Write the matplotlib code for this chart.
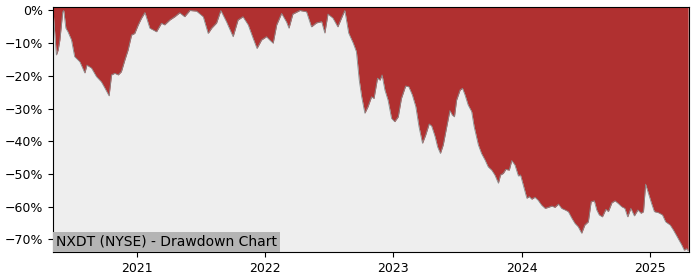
import matplotlib
matplotlib.use("Agg")
import matplotlib.pyplot as plt
import matplotlib.dates as mdates
from matplotlib.ticker import PercentFormatter
import numpy as np
import pandas as pd

ticker_label = "NXDT (NYSE) - Drawdown Chart"

dates = [
    "2020-05-08", "2020-05-17", "2020-05-22", "2020-05-27", "2020-06-04", "2020-06-07",
    "2020-06-13", "2020-06-19", "2020-06-29", "2020-07-08", "2020-07-23", "2020-08-06",
    "2020-08-12", "2020-08-25", "2020-09-08", "2020-09-22", "2020-10-02", "2020-10-14",
    "2020-10-21", "2020-10-30", "2020-11-09", "2020-11-18", "2020-11-28", "2020-12-07",
    "2020-12-17", "2020-12-26", "2021-01-05", "2021-01-14", "2021-01-24", "2021-02-07",
    "2021-02-26", "2021-03-12", "2021-03-21", "2021-04-05", "2021-04-19", "2021-05-03",
    "2021-05-17", "2021-06-01", "2021-06-20", "2021-07-09", "2021-07-23", "2021-08-02",
    "2021-08-16", "2021-08-28", "2021-09-13", "2021-10-02", "2021-10-16", "2021-10-30",
    "2021-11-14", "2021-11-28", "2021-12-09", "2021-12-22", "2022-01-05", "2022-01-14",
    "2022-01-24", "2022-02-03", "2022-02-17", "2022-03-03", "2022-03-10", "2022-03-21",
    "2022-04-10", "2022-04-29", "2022-05-13", "2022-05-27", "2022-06-11", "2022-06-20",
    "2022-06-29", "2022-07-13", "2022-07-27", "2022-08-10", "2022-08-16", "2022-08-27",
    "2022-09-09", "2022-09-18", "2022-09-26", "2022-10-03", "2022-10-12", "2022-10-21",
    "2022-10-31", "2022-11-07", "2022-11-17", "2022-11-24", "2022-11-30", "2022-12-08",
    "2022-12-17", "2022-12-27", "2023-01-05", "2023-01-15", "2023-01-24", "2023-02-05",
    "2023-02-14", "2023-02-24", "2023-03-06", "2023-03-15", "2023-03-25", "2023-04-03",
    "2023-04-13", "2023-04-20", "2023-04-30", "2023-05-07", "2023-05-15", "2023-05-23",
    "2023-06-02", "2023-06-11", "2023-06-18", "2023-06-24", "2023-06-30", "2023-07-10",
    "2023-07-17", "2023-07-24", "2023-08-02", "2023-08-12", "2023-08-19", "2023-08-31",
    "2023-09-09", "2023-09-19", "2023-09-28", "2023-10-08", "2023-10-17", "2023-10-27",
    "2023-11-02", "2023-11-10", "2023-11-17", "2023-11-27", "2023-12-04", "2023-12-13",
    "2023-12-23", "2023-12-29", "2024-01-06", "2024-01-16", "2024-01-23", "2024-01-30",
    "2024-02-08", "2024-02-17", "2024-02-27", "2024-03-08", "2024-03-17", "2024-03-27",
    "2024-04-05", "2024-04-15", "2024-04-24", "2024-05-04", "2024-05-13", "2024-05-23",
    "2024-06-01", "2024-06-10", "2024-06-20", "2024-06-29", "2024-07-09", "2024-07-17",
    "2024-07-26", "2024-08-02", "2024-08-09", "2024-08-18", "2024-08-28", "2024-09-04",
    "2024-09-14", "2024-09-23", "2024-10-02", "2024-10-12", "2024-10-21", "2024-10-29",
    "2024-11-07", "2024-11-17", "2024-11-27", "2024-12-06", "2024-12-13", "2024-12-19",
    "2024-12-27", "2025-01-05", "2025-01-13", "2025-01-24", "2025-02-05", "2025-02-14",
    "2025-02-27", "2025-03-08", "2025-03-18", "2025-03-24", "2025-04-01", "2025-04-08",
    "2025-04-15", "2025-04-19",
]

# drawdown in percent
drawdown = [
    -0.5, -13.6, -12.1, -9.0, -0.5, 0.0,
    -5.4, -6.5, -9.0, -14.1, -15.7, -19.1,
    -16.7, -17.6, -20.2, -21.8, -23.7, -26.1,
    -19.7, -19.2, -19.7, -18.7, -15.1, -12.1,
    -7.5, -7.0, -4.4, -2.4, -0.6, -5.4,
    -6.5, -3.9, -4.4, -2.9, -1.9, -0.7,
    -1.9, 0.0, -0.2, -1.9, -7.0, -5.4,
    -3.8, 0.0, -3.4, -8.0, -2.9, -1.9,
    -4.4, -8.5, -11.6, -9.0, -8.0, -9.0,
    -10.0, -4.4, -0.9, -3.5, -5.4, -1.1,
    0.0, -0.4, -5.0, -3.8, -3.4, -6.9,
    -1.1, -2.3, -5.0, -1.4, 0.0, -6.9,
    -10.0, -12.6, -21.3, -26.4, -31.4, -29.4,
    -26.4, -26.9, -20.7, -21.3, -19.7, -24.3,
    -27.4, -33.0, -34.0, -32.5, -26.9, -23.1,
    -23.3, -25.8, -29.4, -35.5, -40.6, -38.1,
    -34.7, -35.3, -38.6, -41.7, -43.7, -41.1,
    -35.5, -30.6, -32.0, -32.5, -27.4, -24.3,
    -23.8, -25.8, -28.9, -30.9, -35.5, -41.1,
    -43.7, -45.7, -47.8, -48.8, -50.3, -52.8,
    -50.3, -49.8, -48.6, -48.8, -45.9, -47.2,
    -50.6, -50.3, -53.4, -57.4, -56.9, -57.7,
    -57.1, -58.0, -59.5, -60.5, -60.2, -59.8,
    -60.2, -59.2, -60.5, -61.0, -61.5, -63.5,
    -65.1, -66.1, -68.1, -65.6, -64.6, -58.5,
    -58.2, -61.0, -62.5, -63.1, -60.8, -61.5,
    -58.8, -58.2, -59.0, -60.0, -60.5, -63.1,
    -60.5, -62.8, -61.0, -62.0, -61.5, -53.1,
    -55.9, -59.0, -61.5, -61.8, -62.5, -64.6,
    -65.6, -67.1, -69.0, -70.2, -71.7, -73.3,
    -72.8, -73.5,
]

x = pd.to_datetime(dates)
dd = np.array(drawdown) / 100.0

fig = plt.figure(figsize=(7, 2.8), dpi=100)
ax = fig.add_axes([0.076, 0.1, 0.908, 0.875])
ax.set_facecolor('#eeeeee')

top = 0.0107
ax.fill_between(x, dd, top, color='#b03030', lw=0)
ax.plot(x, dd, color='#8a8a8a', lw=0.6)

ax.set_xlim(x[0], pd.Timestamp("2025-04-21"))
ax.set_ylim(-0.7385, top)

ax.set_yticks(np.arange(0, -0.71, -0.1))
ax.yaxis.set_major_formatter(PercentFormatter(1.0, decimals=0))
ax.xaxis.set_major_locator(mdates.YearLocator())
ax.xaxis.set_major_formatter(mdates.DateFormatter('%Y'))
ax.tick_params(labelsize=9)

ax.annotate(ticker_label, xy=(0, 0), xycoords='axes fraction',
            xytext=(2.2, 2.2), textcoords='offset points',
            ha='left', va='bottom', fontsize=10,
            bbox=dict(facecolor='#b4b4b4', edgecolor='none', pad=2.2))

fig.savefig('out.png', dpi=100)
